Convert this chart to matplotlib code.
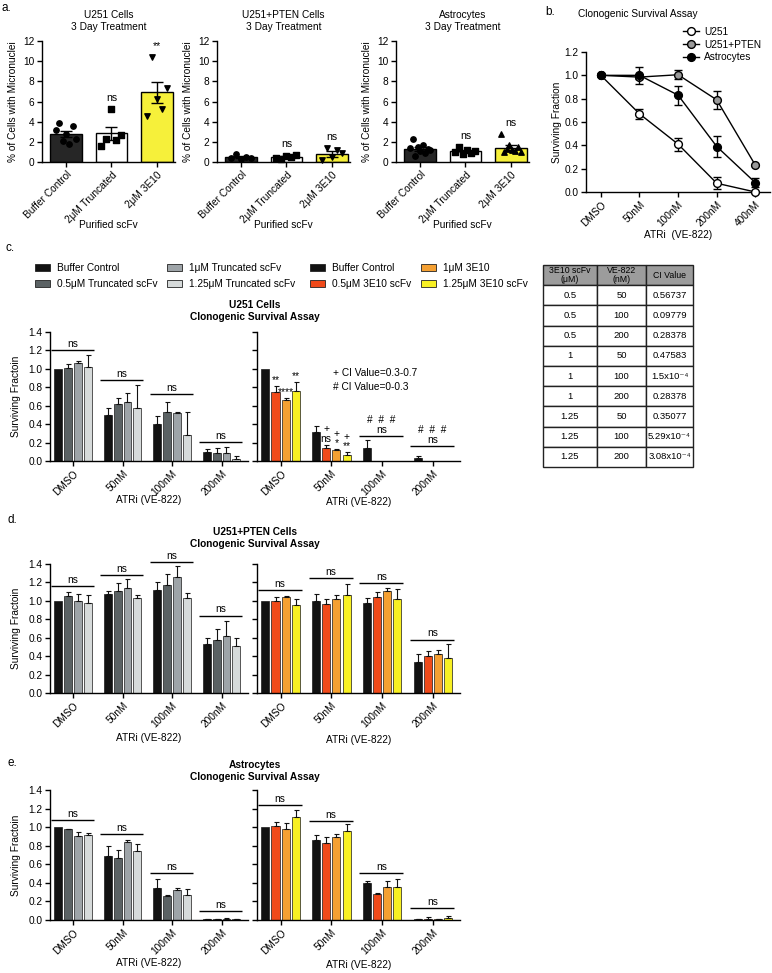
"""
Micronuclei + clonogenic survival figure (panels a-e)
"""
import numpy as np
import matplotlib
matplotlib.use('Agg')
import matplotlib.pyplot as plt
from matplotlib.patches import Patch
from matplotlib.lines import Line2D

plt.rcParams['font.family'] = ['Liberation Sans', 'DejaVu Sans']
plt.rcParams['font.size'] = 7.3
plt.rcParams['axes.linewidth'] = 1.0
plt.rcParams['xtick.major.width'] = 1.0
plt.rcParams['ytick.major.width'] = 1.0
plt.rcParams['xtick.major.size'] = 3.5
plt.rcParams['ytick.major.size'] = 3.5
plt.rcParams['xtick.major.pad'] = 2
plt.rcParams['ytick.major.pad'] = 2

W, H = 772, 973

# a. micronuclei, 3 day treatment
mn_groups = ['Buffer Control', '2μM Truncated', '2μM 3E10']
mn_titles = ['U251 Cells\n3 Day Treatment',
             'U251+PTEN Cells\n3 Day Treatment',
             'Astrocytes\n3 Day Treatment']
mn_mean = [[2.8, 2.85, 6.9], [0.5, 0.5, 0.75], [1.3, 1.05, 1.4]]
mn_sem = [[0.28, 0.65, 1.0], [0.1, 0.08, 0.3], [0.17, 0.1, 0.25]]
mn_points = [
    [[3.2, 3.9, 2.1, 2.8, 1.8, 3.6, 2.3], [1.6, 2.3, 5.3, 2.2, 2.7], [4.6, 10.4, 6.2, 5.3, 7.3]],
    [[0.35, 0.8, 0.3, 0.5, 0.4], [0.4, 0.3, 0.55, 0.45, 0.7], [0.2, 1.4, 0.5, 1.2, 0.9]],
    [[1.4, 2.3, 0.6, 1.5, 1.1, 1.7, 0.9, 1.3, 1.2], [1.0, 1.5, 0.8, 1.2, 0.9, 1.1], [2.8, 1.0, 1.3, 1.7, 1.2, 1.1, 1.5, 1.0]],
]
mn_markers = [['o', 's', 'v'], ['o', 's', 'v'], ['o', 's', '^']]
mn_stars = [['', 'ns', '**'], ['', 'ns', 'ns'], ['', 'ns', 'ns']]
mn_colors = ['#262626', 'white', '#f6f03a']

# b. clonogenic survival, ATRi alone
dose_labels = ['DMSO', '50nM', '100nM', '200nM', '400nM']
cs_u251 = [1.0, 0.67, 0.41, 0.075, 0.0]
cs_u251_err = [0.0, 0.045, 0.055, 0.05, 0.01]
cs_pten = [1.0, 0.985, 1.005, 0.79, 0.23]
cs_pten_err = [0.0, 0.02, 0.04, 0.08, 0.01]
cs_astro = [1.0, 1.0, 0.83, 0.39, 0.08]
cs_astro_err = [0.0, 0.07, 0.08, 0.09, 0.04]

# c-e. scFv + ATRi (rows: treatment, cols: ATRi dose)
atr_labels = ['DMSO', '50nM', '100nM', '200nM']
trunc_labels = ['Buffer Control', '0.5μM Truncated scFv', '1μM Truncated scFv', '1.25μM Truncated scFv']
e10_labels = ['Buffer Control', '0.5μM 3E10 scFv', '1μM 3E10', '1.25μM 3E10 scFv']
trunc_colors = ['#121212', '#5b6264', '#9ea4a8', '#d6dada']
e10_colors = ['#121212', '#f04a1a', '#f5a032', '#f8f023']

u251_trunc = [[1.0, 0.495, 0.40, 0.10], [1.01, 0.615, 0.535, 0.085],
              [1.065, 0.635, 0.52, 0.085], [1.02, 0.57, 0.28, 0.025]]
u251_trunc_err = [[0.0, 0.08, 0.09, 0.03], [0.045, 0.065, 0.11, 0.055],
                  [0.015, 0.105, 0.01, 0.065], [0.13, 0.25, 0.25, 0.025]]
u251_e10 = [[1.0, 0.315, 0.14, 0.035], [0.745, 0.145, 0.004, 0.004],
            [0.665, 0.115, 0.002, 0.004], [0.755, 0.07, 0.0, 0.0]]
u251_e10_err = [[0.0, 0.065, 0.09, 0.02], [0.065, 0.03, 0.0, 0.0],
                [0.015, 0.01, 0.0, 0.0], [0.105, 0.025, 0.0, 0.0]]
u251_trunc_ns = [1.20, 0.875, 0.725, 0.21]
u251_e10_ns = [None, None, 0.27, 0.165]
u251_e10_ns_txt = ['', '', '#  #  #\nns', '#  #  #\nns']
u251_e10_marks = [['', '', '', ''], ['**', '+\nns', '', ''],
                  ['****', '+\n*', '', ''], ['**', '+\n**', '', '']]

pten_trunc = [[1.0, 1.07, 1.12, 0.53], [1.05, 1.11, 1.17, 0.58],
              [1.0, 1.14, 1.26, 0.62], [0.98, 1.03, 1.03, 0.51]]
pten_trunc_err = [[0.0, 0.04, 0.08, 0.07], [0.05, 0.08, 0.12, 0.12],
                  [0.07, 0.1, 0.12, 0.16], [0.08, 0.03, 0.06, 0.09]]
pten_e10 = [[1.0, 1.0, 0.98, 0.335], [1.0, 0.97, 1.04, 0.40],
            [1.04, 1.02, 1.11, 0.42], [0.95, 1.06, 1.02, 0.385]]
pten_e10_err = [[0.0, 0.07, 0.05, 0.085], [0.04, 0.05, 0.06, 0.06],
                [0.01, 0.04, 0.03, 0.045], [0.07, 0.12, 0.11, 0.145]]
pten_trunc_ns = [1.16, 1.28, 1.42, 0.84]
pten_e10_ns = [1.12, 1.25, 1.19, 0.58]

astro_trunc = [[1.0, 0.69, 0.34, 0.01], [0.975, 0.665, 0.26, 0.01],
               [0.90, 0.84, 0.32, 0.012], [0.92, 0.74, 0.265, 0.01]]
astro_trunc_err = [[0.0, 0.105, 0.105, 0.005], [0.01, 0.085, 0.01, 0.005],
                   [0.05, 0.025, 0.03, 0.005], [0.02, 0.075, 0.065, 0.005]]
astro_e10 = [[1.0, 0.86, 0.395, 0.01], [1.01, 0.83, 0.28, 0.015],
             [0.98, 0.89, 0.36, 0.008], [1.11, 0.96, 0.36, 0.025]]
astro_e10_err = [[0.0, 0.06, 0.02, 0.005], [0.05, 0.065, 0.015, 0.012],
                 [0.06, 0.04, 0.06, 0.005], [0.07, 0.07, 0.08, 0.02]]
astro_trunc_ns = [1.08, 0.93, 0.51, 0.10]
astro_e10_ns = [1.24, 1.07, 0.51, 0.13]

# CI table
ci_header = ['3E10 scFv\n(μM)', 'VE-822\n(nM)', 'CI Value']
ci_scfv = ['0.5', '0.5', '0.5', '1', '1', '1', '1.25', '1.25', '1.25']
ci_ve822 = ['50', '100', '200', '50', '100', '200', '50', '100', '200']
ci_value = ['0.56737', '0.09779', '0.28378', '0.47583', '1.5x10⁻⁴',
            '0.28378', '0.35077', '5.29x10⁻⁴', '3.08x10⁻⁴']


fig = plt.figure(figsize=(W / 100, H / 100), dpi=100)


def px_axes(x0, y0, x1, y1):
    return fig.add_axes([x0 / W, 1 - y1 / H, (x1 - x0) / W, (y1 - y0) / H])


def label_at(ax, xlab=None, ylab=None, x_px=None, y_px=None):
    bb = ax.get_position()
    if xlab is not None:
        ax.set_xlabel(xlab, va='center')
        ax.xaxis.set_label_coords(0.5, ((1 - y_px / H) - bb.y0) / bb.height)
    if ylab is not None:
        ax.set_ylabel(ylab, va='center')
        ax.yaxis.set_label_coords((x_px / W - bb.x0) / bb.width, 0.5)


def clean(ax):
    ax.spines[['top', 'right']].set_visible(False)
    ax.tick_params(direction='out')


# panel a
for k, (x0, x1) in enumerate([(42, 175), (217, 350), (396, 529)]):
    ax = px_axes(x0, 41, x1, 162)
    x = np.arange(3)
    ax.bar(x, mn_mean[k], width=0.7, color=mn_colors, edgecolor='black', linewidth=1.0, zorder=1)
    for g in range(3):
        pts = mn_points[k][g]
        offs = np.linspace(-0.22, 0.22, len(pts))
        ax.scatter(x[g] + offs, pts, marker=mn_markers[k][g], s=15, color='black', zorder=3, clip_on=False)
        if mn_stars[k][g]:
            ax.text(x[g], max(pts) + 0.6, mn_stars[k][g], ha='center', va='bottom', clip_on=False,
                    fontsize=7.6)
    ax.errorbar(x, mn_mean[k], yerr=mn_sem[k], fmt='none', ecolor='black',
                elinewidth=1.0, capsize=4, capthick=1.0, zorder=4)
    ax.set_xlim(-0.53, 2.4)
    ax.set_ylim(0, 12)
    ax.set_yticks([0, 2, 4, 6, 8, 10, 12])
    ax.set_xticks(x)
    ax.set_xticklabels(mn_groups, rotation=45, ha='right', rotation_mode='anchor')
    clean(ax)
    label_at(ax, xlab='Purified scFv', y_px=225, ylab='% of Cells with Micronuclei', x_px=x0 - 29)
    fig.text((x0 + x1) / 2 / W, 1 - 21 / H, mn_titles[k], ha='center', va='center', linespacing=1.25)

# panel b
ax = px_axes(586, 52, 770, 192)
xb = np.arange(len(dose_labels))
common = dict(color='black', mec='black', ms=5.6, lw=1.0, elinewidth=1.0, capsize=3, capthick=1.0, clip_on=False)
ax.errorbar(xb, cs_u251, yerr=cs_u251_err, marker='o', mfc='white', zorder=3, **common)
ax.errorbar(xb, cs_pten, yerr=cs_pten_err, marker='o', mfc='#9a9a9a', zorder=4, **common)
ax.errorbar(xb, cs_astro, yerr=cs_astro_err, marker='o', mfc='black', zorder=5, **common)
ax.set_xlim(-0.385, 4.38)
ax.set_ylim(0, 1.2)
ax.set_yticks([0, 0.2, 0.4, 0.6, 0.8, 1.0, 1.2])
ax.set_yticklabels(['0.0', '0.2', '0.4', '0.6', '0.8', '1.0', '1.2'])
ax.set_xticks(xb)
ax.set_xticklabels(dose_labels, rotation=45, ha='right', rotation_mode='anchor')
clean(ax)
label_at(ax, xlab='ATRi  (VE-822)', y_px=235, ylab='Surviving Fraction', x_px=557)
fig.text(638 / W, 1 - 14 / H, 'Clonogenic Survival Assay', ha='center', va='center')
hb = [Line2D([], [], color='black', marker='o', mfc=f, mec='black', ms=5.6, lw=1.0)
      for f in ['white', '#9a9a9a', 'black']]
fig.legend(hb, ['U251', 'U251+PTEN', 'Astrocytes'], loc='upper left',
           bbox_to_anchor=(683 / W, 1 - 27 / H), frameon=False, handlelength=1.6,
           handletextpad=0.5, labelspacing=0.25, borderpad=0, borderaxespad=0)


# panels c-e
def survival(ax, vals, errs, colors, ns_y, ns_txt=None, marks=None, ylabels=True):
    x = np.arange(len(atr_labels))
    for i in range(4):
        xi = x + (i - 1.5) * 0.2
        v = np.array(vals[i])
        e = np.array(errs[i])
        ax.bar(xi, v, width=0.16, color=colors[i], edgecolor='#1a1a1a', linewidth=0.5, zorder=2)
        m = e > 0
        ax.errorbar(xi[m], v[m], yerr=[np.zeros(m.sum()), e[m]], fmt='none', ecolor='#111111',
                    elinewidth=0.8, capsize=1.8, capthick=0.8, zorder=3)
        if marks is not None:
            for j in range(4):
                if marks[i][j]:
                    ax.text(xi[j], v[j] + e[j] + 0.012, marks[i][j], ha='center', va='bottom',
                            fontsize=7.4, linespacing=0.95)
    for j, y in enumerate(ns_y):
        if y is None:
            continue
        t = ns_txt[j] if ns_txt else 'ns'
        ax.plot([j - 0.45, j + 0.42], [y, y], color='black', lw=1.0, clip_on=False,
                solid_capstyle='butt')
        ax.text(j - 0.01, y + 0.012, t, ha='center', va='bottom', linespacing=1.0, clip_on=False)
    ax.set_xlim(-0.465, 3.535)
    ax.set_ylim(0, 1.4)
    ax.set_yticks([0, 0.2, 0.4, 0.6, 0.8, 1.0, 1.2, 1.4])
    if ylabels:
        ax.set_yticklabels(['0.0', '0.2', '0.4', '0.6', '0.8', '1.0', '1.2', '1.4'])
    else:
        ax.set_yticklabels([])
    ax.set_xticks(x)
    ax.set_xticklabels(atr_labels, rotation=45, ha='right', rotation_mode='anchor')
    clean(ax)


rows = [
    (332, 461, 500, 'U251 Cells\nClonogenic Survival Assay', 311,
     (u251_trunc, u251_trunc_err, u251_trunc_ns, None),
     (u251_e10, u251_e10_err, u251_e10_ns, u251_e10_ns_txt, u251_e10_marks)),
    (564, 693, 738, 'U251+PTEN Cells\nClonogenic Survival Assay', 538,
     (pten_trunc, pten_trunc_err, pten_trunc_ns, None),
     (pten_e10, pten_e10_err, pten_e10_ns, None, None)),
    (790, 920, 963, 'Astrocytes\nClonogenic Survival Assay', 771,
     (astro_trunc, astro_trunc_err, astro_trunc_ns, None),
     (astro_e10, astro_e10_err, astro_e10_ns, None, None)),
]
for y0, y1, ylab_y, title, title_y, left, right in rows:
    axl = px_axes(50, y0, 248, y1)
    survival(axl, left[0], left[1], trunc_colors, left[2], left[3])
    label_at(axl, xlab='ATRi (VE-822)', y_px=ylab_y, ylab='Surviving Fractoin', x_px=16)
    axr = px_axes(257, y0, 460, y1)
    survival(axr, right[0], right[1], e10_colors, right[2], right[3], right[4], ylabels=False)
    label_at(axr, xlab='ATRi (VE-822)', y_px=ylab_y + 2)
    fig.text(255 / W, 1 - title_y / H, title, ha='center', va='center', fontweight='bold',
             linespacing=1.2)

fig.text(333 / W, 1 - 373 / H, '+ CI Value=0.3-0.7', ha='left', va='center')
fig.text(333 / W, 1 - 387 / H, '# CI Value=0-0.3', ha='left', va='center')

# legends for c
leg_kw = dict(ncol=2, loc='upper left', frameon=False, handlelength=1.5, handleheight=0.75,
              handletextpad=0.7, columnspacing=0.9, labelspacing=0.6, borderpad=0,
              borderaxespad=0)
fig.legend([Patch(facecolor=c, edgecolor='#222222', linewidth=0.6) for c in trunc_colors],
           trunc_labels, bbox_to_anchor=(35 / W, 1 - 263 / H), **leg_kw)
fig.legend([Patch(facecolor=c, edgecolor='#222222', linewidth=0.6) for c in e10_colors],
           e10_labels, bbox_to_anchor=(310 / W, 1 - 263 / H), **leg_kw)

# CI table
tab_ax = px_axes(543, 265, 693, 467)
tab_ax.axis('off')
cells = [[a, b, c] for a, b, c in zip(ci_scfv, ci_ve822, ci_value)]
tbl = tab_ax.table(cellText=cells, colLabels=ci_header, colWidths=[54 / 150, 49 / 150, 47 / 150],
                   cellLoc='center', bbox=[0, 0, 1, 1])
tbl.auto_set_font_size(False)
tbl.set_fontsize(6.8)
for (r, c), cell in tbl.get_celld().items():
    cell.set_linewidth(1.0)
    cell.set_edgecolor('#222222')
    if r == 0:
        cell.set_facecolor('#9c9c9c')
        cell.get_text().set_fontsize(6.3)
        cell.get_text().set_linespacing(1.0)

# panel letters
for letter, (lx, ly) in {'a.': (2, 8), 'b.': (545, 12), 'c.': (6, 248),
                         'd.': (8, 520), 'e.': (8, 763)}.items():
    fig.text(lx / W, 1 - ly / H, letter, ha='left', va='center', fontsize=8.5)

fig.savefig('out.png', dpi=100)
